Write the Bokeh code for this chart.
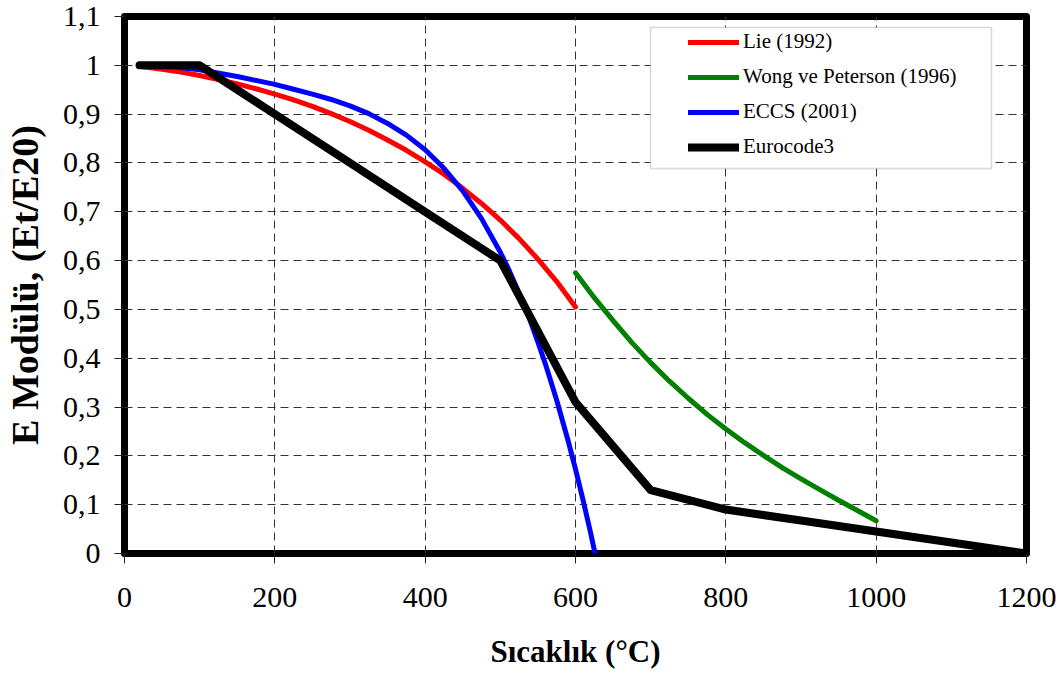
from bokeh.plotting import figure
from bokeh.models import (Range1d, FixedTicker, CustomJSTickFormatter, Legend, LegendItem,
                          BoxAnnotation)
from bokeh.embed import file_html
from bokeh.resources import INLINE

# ---- data ----
lie_T = [20, 50, 75, 100, 125, 150, 175, 200, 225, 250, 275, 300, 325, 350, 375, 400, 425,
         450, 475, 500, 525, 550, 575, 600]
lie_E = [0.998, 0.992, 0.986, 0.979, 0.971, 0.962, 0.952, 0.941, 0.929, 0.916, 0.901, 0.885,
         0.867, 0.847, 0.826, 0.802, 0.777, 0.748, 0.717, 0.683, 0.645, 0.603, 0.557, 0.505]

wong_T = [600, 625, 650, 675, 700, 725, 750, 775, 800, 825, 850, 875, 900, 925, 950, 975, 1000]
wong_E = [0.575, 0.524, 0.477, 0.432, 0.391, 0.353, 0.318, 0.285, 0.255, 0.227, 0.201, 0.176,
          0.153, 0.131, 0.109, 0.088, 0.067]

eccs_T = [20, 50, 100, 150, 200, 225, 250, 275, 300, 325, 350, 375, 400, 425, 450, 475, 500,
          510, 525, 540, 550, 560, 575, 590, 600, 610, 620, 626]
eccs_E = [1.0, 0.999, 0.991, 0.977, 0.961, 0.951, 0.941, 0.930, 0.917, 0.901, 0.881, 0.857,
          0.827, 0.789, 0.743, 0.686, 0.617, 0.586, 0.533, 0.476, 0.433, 0.388, 0.314, 0.232,
          0.173, 0.110, 0.043, 0.0]

ec3_T = [20, 100, 200, 300, 400, 500, 600, 700, 800, 900, 1000, 1100, 1200]
ec3_E = [1.0, 1.0, 0.9, 0.8, 0.7, 0.6, 0.31, 0.13, 0.09, 0.0675, 0.045, 0.0225, 0.0]

x_ticks = [0, 200, 400, 600, 800, 1000, 1200]
y_ticks = [0, 0.1, 0.2, 0.3, 0.4, 0.5, 0.6, 0.7, 0.8, 0.9, 1.0, 1.1]

series_names = ["Lie (1992)", "Wong ve Peterson (1996)", "ECCS (2001)", "Eurocode3"]

FONT = "Liberation Serif"

p = figure(width=1064, height=678, x_range=Range1d(0, 1200), y_range=Range1d(0, 1.1),
           output_backend="svg", toolbar_location=None,
           min_border_left=124, min_border_right=38, min_border_top=16, min_border_bottom=125)
p.background_fill_color = "white"
p.border_fill_color = "white"
p.outline_line_color = "black"
p.outline_line_width = 7
p.outline_line_join = "round"

# axes
for ax in (p.xaxis[0], p.yaxis[0]):
    ax.axis_line_color = None
    ax.major_tick_in = 0
    ax.major_tick_out = 10
    ax.major_tick_line_color = "#222222"
    ax.minor_tick_line_color = None
    ax.major_label_text_font = FONT
    ax.major_label_text_font_size = "30px"
    ax.major_label_text_color = "black"
    ax.axis_label_text_font = FONT
    ax.axis_label_text_font_style = "bold"
    ax.axis_label_text_color = "black"

p.xaxis.ticker = FixedTicker(ticks=x_ticks)
p.yaxis.ticker = FixedTicker(ticks=y_ticks)
p.yaxis.formatter = CustomJSTickFormatter(
    code="const v = Math.round(tick*10)/10; return v.toString().replace('.', ',');")
p.xaxis.major_label_standoff = 24
p.yaxis.major_label_standoff = 14
p.xaxis.axis_label = "Sıcaklık (°C)"
p.yaxis.axis_label = "E Modülü, (Et/E20)"
p.xaxis.axis_label_text_font_size = "31px"
p.yaxis.axis_label_text_font_size = "38px"
p.xaxis.axis_label_standoff = 24
p.yaxis.axis_label_standoff = 14

# grid
for g in (p.xgrid[0], p.ygrid[0]):
    g.grid_line_color = "#333333"
    g.grid_line_dash = "8 5"
    g.grid_line_width = 1

# lines
r_lie = p.line(lie_T, lie_E, line_color="#FF0000", line_width=5, line_cap="round", line_join="round")
r_wong = p.line(wong_T, wong_E, line_color="#008000", line_width=5, line_cap="round", line_join="round")
r_eccs = p.line(eccs_T, eccs_E, line_color="#0000FF", line_width=5, line_cap="round", line_join="round")
r_ec3 = p.line(ec3_T, ec3_E, line_color="black", line_width=8, line_cap="round", line_join="round")

# legend box (screen units, measured from the frame's bottom-left)
box = BoxAnnotation(left=526, right=867, top=526, bottom=385,
                    left_units="screen", right_units="screen", top_units="screen", bottom_units="screen",
                    fill_color="white", fill_alpha=1.0, line_color="#808080", line_width=1.5)
p.add_layout(box)

legend = Legend(items=[LegendItem(label=n, renderers=[r]) for n, r in
                       zip(series_names, [r_lie, r_wong, r_eccs, r_ec3])],
                location=(564, 394), orientation="vertical",
                padding=0, margin=0, spacing=10,
                glyph_width=51, glyph_height=22, label_height=22, label_standoff=4,
                label_text_font=FONT, label_text_font_size="21px", label_text_color="black",
                border_line_color=None, background_fill_alpha=0)
p.add_layout(legend)

open("out.html", "w").write(file_html(p, INLINE))
